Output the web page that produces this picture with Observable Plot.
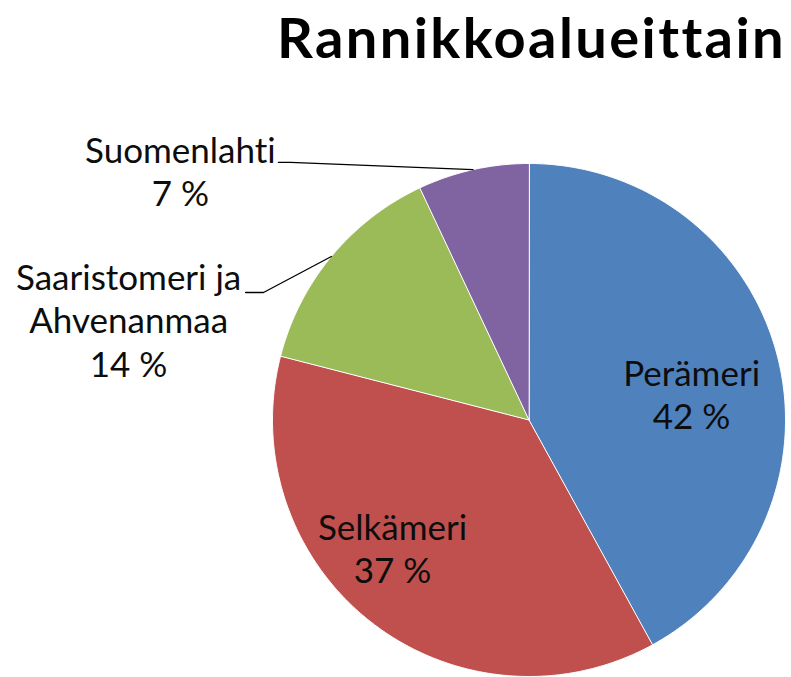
<!DOCTYPE html>
<html>
<head>
<meta charset="utf-8">
<script src="https://cdn.jsdelivr.net/npm/d3@7"></script>
<script src="https://cdn.jsdelivr.net/npm/@observablehq/plot@0.6"></script>
<style>
  html, body { margin: 0; padding: 0; background: #fff; overflow: hidden; }
  svg text { font-variant-ligatures: none; font-feature-settings: "liga" 0, "clig" 0; }
</style>
</head>
<body>
<div id="chart"></div>
<script>
// ---- data ----
const title = "Rannikkoalueittain";
const categories = ["Perämeri", "Selkämeri", "Saaristomeri ja Ahvenanmaa", "Suomenlahti"];
const shares = [42, 37, 14, 7];
const nameLabels = ["Perämeri", "Selkämeri", "Saaristomeri ja\nAhvenanmaa", "Suomenlahti"];
const pctLabels = ["42 %", "37 %", "14 %", "7 %"];

// ---- style ----
const palette = ["#4F81BD", "#C0504D", "#9BBB59", "#8064A2"];

// ---- layout (pie in unit-radius coordinates) ----
const W = 791, H = 677, R = 256.5, CX = 528.5, CY = 419.5;
const labelAnchors = [[0.634, 0.104], [-0.532, -0.499], [-1.561, 0.391], [-1.359, 0.970]];
const leaderElbows = [null, null, [[-1.105, 0.497], [-1.035, 0.497]], [[-0.977, 1.004], [-0.930, 1.004]]];

const arcs = d3.pie().sort(null).value(d => d)(shares);

const slicePts = [];
arcs.forEach((a, i) => {
  const name = categories[i];
  slicePts.push({name, x: 0, y: 0});
  const steps = Math.max(8, Math.ceil((a.endAngle - a.startAngle) / (Math.PI / 360)));
  for (let k = 0; k <= steps; k++) {
    const t = a.startAngle + (a.endAngle - a.startAngle) * k / steps;
    slicePts.push({name, x: Math.sin(t), y: Math.cos(t)});
  }
});

const labels = arcs.map((a, i) => ({
  name: categories[i],
  text: nameLabels[i] + "\n" + pctLabels[i],
  x: labelAnchors[i][0],
  y: labelAnchors[i][1]
}));

const leaders = [];
arcs.forEach((a, i) => {
  if (!leaderElbows[i]) return;
  const mid = (a.startAngle + a.endAngle) / 2;
  leaderElbows[i].forEach(p => leaders.push({name: categories[i], x: p[0], y: p[1]}));
  leaders.push({name: categories[i], x: Math.sin(mid), y: Math.cos(mid)});
});

const chart = Plot.plot({
  width: W,
  height: H,
  margin: 0,
  x: {domain: [-CX / R, (W - CX) / R], axis: null},
  y: {domain: [-(H - CY) / R, CY / R], axis: null},
  color: {domain: categories, range: palette},
  style: {fontFamily: "Lato, 'Open Sans', sans-serif", background: "#fff"},
  marks: [
    Plot.line(slicePts, {x: "x", y: "y", z: "name", fill: "name", stroke: "#ffffff", strokeWidth: 1, curve: "linear-closed"}),
    Plot.line(leaders, {x: "x", y: "y", z: "name", stroke: "#000", strokeWidth: 1.3}),
    Plot.text(labels, {x: "x", y: "y", text: "text", fontSize: 35, lineHeight: 1.23, fill: "#0d0d0d", textAnchor: "middle", lineAnchor: "middle", fontFamily: "Lato"}),
    Plot.text([{t: title, x: (531 - CX) / R, y: (CY - 57 + 0.32 * 56) / R}], {x: "x", y: "y", text: "t", fontSize: 56, fontWeight: "bold", fill: "#000", textAnchor: "middle", lineAnchor: "middle", fontFamily: "Lato"})
  ]
});
// widen the title's tracking to match the reference
d3.select(chart).selectAll('g[aria-label="text"]').filter((d, i) => i === 1).attr("letter-spacing", "2.4px");
document.getElementById("chart").appendChild(chart);
</script>
</body>
</html>
